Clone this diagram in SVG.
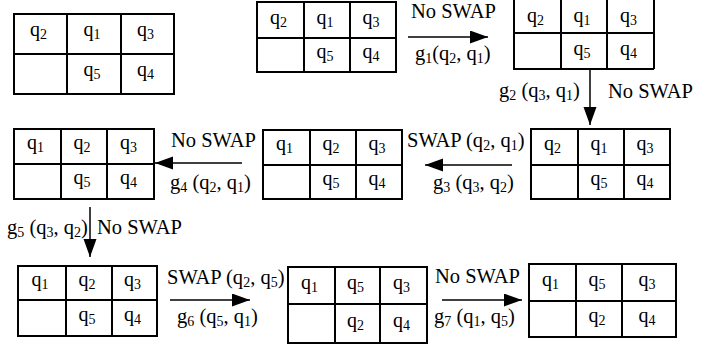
<svg xmlns="http://www.w3.org/2000/svg" width="703" height="344" viewBox="0 0 703 344" font-family="'Liberation Serif', 'DejaVu Serif', serif">
<style>
.g{fill:none;stroke:#000;stroke-width:2}
.c{font-family:'Liberation Serif','DejaVu Serif',serif;font-size:20px;fill:#000;text-anchor:middle}
.l{font-family:'Liberation Serif','DejaVu Serif',serif;font-size:20.5px;fill:#000}
.s{font-size:14px}
.ln{stroke:#000;stroke-width:1.5;fill:none}
</style>
<defs>
<marker id="ah" markerUnits="userSpaceOnUse" markerWidth="19" markerHeight="14" refX="18" refY="6.5" orient="auto">
<path d="M0,0 L18,6.5 L0,13 Z" fill="#000"/>
</marker>
</defs>
<rect width="703" height="344" fill="#fff"/>

<g id="grid1">
<rect class="g" x="14" y="14" width="160" height="80"/>
<path class="g" d="M67,14V94M121,14V94M14,54H174"/>
<text class="c" x="38.5" y="36">q<tspan class="s" dy="3">2</tspan></text>
<text class="c" x="92" y="36">q<tspan class="s" dy="3">1</tspan></text>
<text class="c" x="145.5" y="36">q<tspan class="s" dy="3">3</tspan></text>
<text class="c" x="92" y="76">q<tspan class="s" dy="3">5</tspan></text>
<text class="c" x="145.5" y="76">q<tspan class="s" dy="3">4</tspan></text>
</g>

<g id="grid2">
<rect class="g" x="257" y="2" width="139" height="70"/>
<path class="g" d="M304,2V72M350,2V72M257,38H396"/>
<text class="c" x="278.5" y="24">q<tspan class="s" dy="3">2</tspan></text>
<text class="c" x="325" y="24">q<tspan class="s" dy="3">1</tspan></text>
<text class="c" x="371" y="24">q<tspan class="s" dy="3">3</tspan></text>
<text class="c" x="325" y="58">q<tspan class="s" dy="3">5</tspan></text>
<text class="c" x="371" y="58">q<tspan class="s" dy="3">4</tspan></text>
</g>

<g id="grid3">
<path class="g" d="M514,-2V69M561,-2V69M607,-2V69M654,-2V69M514,33H654M513,69H654"/>
<text class="c" x="535.5" y="22">q<tspan class="s" dy="3">2</tspan></text>
<text class="c" x="582" y="22">q<tspan class="s" dy="3">1</tspan></text>
<text class="c" x="628.5" y="22">q<tspan class="s" dy="3">3</tspan></text>
<text class="c" x="582" y="55">q<tspan class="s" dy="3">5</tspan></text>
<text class="c" x="628.5" y="55">q<tspan class="s" dy="3">4</tspan></text>
</g>

<g id="grid4">
<rect class="g" x="531" y="129" width="139" height="70"/>
<path class="g" d="M578,129V199M624,129V199M531,165H670"/>
<text class="c" x="552.5" y="150">q<tspan class="s" dy="3">2</tspan></text>
<text class="c" x="599" y="150">q<tspan class="s" dy="3">1</tspan></text>
<text class="c" x="645" y="150">q<tspan class="s" dy="3">3</tspan></text>
<text class="c" x="599" y="185">q<tspan class="s" dy="3">5</tspan></text>
<text class="c" x="645" y="185">q<tspan class="s" dy="3">4</tspan></text>
</g>

<g id="grid5">
<rect class="g" x="263" y="130" width="139" height="69"/>
<path class="g" d="M310,130V199M356,130V199M263,165H402"/>
<text class="c" x="284.5" y="150">q<tspan class="s" dy="3">1</tspan></text>
<text class="c" x="331" y="150">q<tspan class="s" dy="3">2</tspan></text>
<text class="c" x="377" y="150">q<tspan class="s" dy="3">3</tspan></text>
<text class="c" x="331" y="185">q<tspan class="s" dy="3">5</tspan></text>
<text class="c" x="377" y="185">q<tspan class="s" dy="3">4</tspan></text>
</g>

<g id="grid6">
<rect class="g" x="14" y="129" width="140" height="70"/>
<path class="g" d="M61,129V199M107,129V199M14,164H154"/>
<text class="c" x="35.5" y="149">q<tspan class="s" dy="3">1</tspan></text>
<text class="c" x="82" y="149">q<tspan class="s" dy="3">2</tspan></text>
<text class="c" x="128.5" y="149">q<tspan class="s" dy="3">3</tspan></text>
<text class="c" x="82" y="184">q<tspan class="s" dy="3">5</tspan></text>
<text class="c" x="128.5" y="184">q<tspan class="s" dy="3">4</tspan></text>
</g>

<g id="grid7">
<rect class="g" x="18" y="266" width="139" height="70"/>
<path class="g" d="M66,266V336M112,266V336M18,300H157"/>
<text class="c" x="40" y="286">q<tspan class="s" dy="3">1</tspan></text>
<text class="c" x="87" y="286">q<tspan class="s" dy="3">2</tspan></text>
<text class="c" x="132.5" y="286">q<tspan class="s" dy="3">3</tspan></text>
<text class="c" x="87" y="321">q<tspan class="s" dy="3">5</tspan></text>
<text class="c" x="132.5" y="321">q<tspan class="s" dy="3">4</tspan></text>
</g>

<g id="grid8">
<rect class="g" x="288" y="267" width="139" height="76"/>
<path class="g" d="M335,267V343M380,267V343M288,304H427"/>
<text class="c" x="309.5" y="289">q<tspan class="s" dy="3">1</tspan></text>
<text class="c" x="355.5" y="289">q<tspan class="s" dy="3">5</tspan></text>
<text class="c" x="401.5" y="289">q<tspan class="s" dy="3">3</tspan></text>
<text class="c" x="355.5" y="327">q<tspan class="s" dy="3">2</tspan></text>
<text class="c" x="401.5" y="327">q<tspan class="s" dy="3">4</tspan></text>
</g>

<g id="grid9">
<rect class="g" x="529" y="264" width="147" height="73"/>
<path class="g" d="M576,264V337M622,264V337M529,301H676"/>
<text class="c" x="550.5" y="286">q<tspan class="s" dy="3">1</tspan></text>
<text class="c" x="597" y="286">q<tspan class="s" dy="3">5</tspan></text>
<text class="c" x="647" y="286">q<tspan class="s" dy="3">3</tspan></text>
<text class="c" x="597" y="322">q<tspan class="s" dy="3">2</tspan></text>
<text class="c" x="647" y="322">q<tspan class="s" dy="3">4</tspan></text>
</g>

<g id="connectors">
<line class="ln" x1="408" y1="37" x2="488" y2="37" marker-end="url(#ah)"/>
<line class="ln" x1="590" y1="69" x2="590" y2="125" marker-end="url(#ah)"/>
<line class="ln" x1="512" y1="165" x2="425" y2="165" marker-end="url(#ah)"/>
<line class="ln" x1="242" y1="163" x2="155" y2="163" marker-end="url(#ah)"/>
<line class="ln" x1="90" y1="207" x2="90" y2="257" marker-end="url(#ah)"/>
<line class="ln" x1="170" y1="300" x2="250" y2="300" marker-end="url(#ah)"/>
<line class="ln" x1="442" y1="300" x2="522" y2="300" marker-end="url(#ah)"/>
</g>

<g id="labels">
<text class="l" x="411" y="18">No SWAP</text>
<text class="l" x="415" y="60">g<tspan class="s" dy="3">1</tspan><tspan dy="-3">(q</tspan><tspan class="s" dy="3">2</tspan><tspan dy="-3">, q</tspan><tspan class="s" dy="3">1</tspan><tspan dy="-3">)</tspan></text>
<text class="l" x="499" y="97">g<tspan class="s" dy="3">2</tspan><tspan dy="-3"> (q</tspan><tspan class="s" dy="3">3</tspan><tspan dy="-3">, q</tspan><tspan class="s" dy="3">1</tspan><tspan dy="-3">)</tspan></text>
<text class="l" x="608" y="98">No SWAP</text>
<text class="l" x="407" y="147">SWAP (q<tspan class="s" dy="3">2</tspan><tspan dy="-3">, q</tspan><tspan class="s" dy="3">1</tspan><tspan dy="-3">)</tspan></text>
<text class="l" x="433" y="189">g<tspan class="s" dy="3">3</tspan><tspan dy="-3"> (q</tspan><tspan class="s" dy="3">3</tspan><tspan dy="-3">, q</tspan><tspan class="s" dy="3">2</tspan><tspan dy="-3">)</tspan></text>
<text class="l" x="171" y="147">No SWAP</text>
<text class="l" x="170" y="189">g<tspan class="s" dy="3">4</tspan><tspan dy="-3"> (q</tspan><tspan class="s" dy="3">2</tspan><tspan dy="-3">, q</tspan><tspan class="s" dy="3">1</tspan><tspan dy="-3">)</tspan></text>
<text class="l" x="7" y="234">g<tspan class="s" dy="3">5</tspan><tspan dy="-3"> (q</tspan><tspan class="s" dy="3">3</tspan><tspan dy="-3">, q</tspan><tspan class="s" dy="3">2</tspan><tspan dy="-3">)</tspan></text>
<text class="l" x="97" y="234">No SWAP</text>
<text class="l" x="167" y="284">SWAP (q<tspan class="s" dy="3">2</tspan><tspan dy="-3">, q</tspan><tspan class="s" dy="3">5</tspan><tspan dy="-3">)</tspan></text>
<text class="l" x="177" y="323">g<tspan class="s" dy="3">6</tspan><tspan dy="-3"> (q</tspan><tspan class="s" dy="3">5</tspan><tspan dy="-3">, q</tspan><tspan class="s" dy="3">1</tspan><tspan dy="-3">)</tspan></text>
<text class="l" x="435" y="283">No SWAP</text>
<text class="l" x="434" y="323">g<tspan class="s" dy="3">7</tspan><tspan dy="-3"> (q</tspan><tspan class="s" dy="3">1</tspan><tspan dy="-3">, q</tspan><tspan class="s" dy="3">5</tspan><tspan dy="-3">)</tspan></text>
</g>
</svg>
